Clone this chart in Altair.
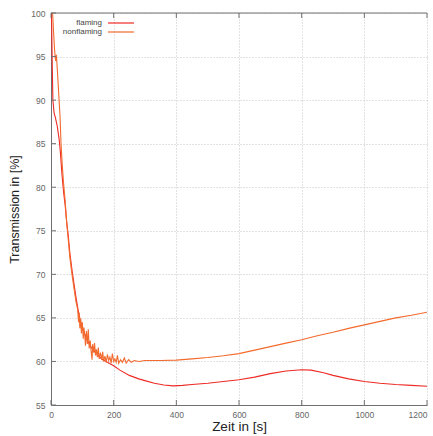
import altair as alt
import pandas as pd

# ---- data ----
flaming_t = [0, 2, 4, 6, 10, 14, 20, 26, 30, 35, 40, 45, 50, 55, 60, 67, 75, 80, 87, 95,
             105, 115, 125, 135, 145, 155, 165, 180, 200, 220, 250, 280, 300, 330, 360,
             390, 420, 450, 500, 550, 600, 650, 700, 750, 800, 830, 870, 900, 950, 1000,
             1050, 1100, 1150, 1200]
flaming_v = [100, 99, 94, 90, 88.5, 88, 87, 85.5, 84, 81.5, 79.5, 78, 76, 74.5, 72.5, 70.5,
             68.5, 67.3, 65.8, 64.5, 63.4, 62.5, 61.8, 61.3, 60.9, 60.5, 60.2, 59.9, 59.5,
             59.0, 58.4, 58.0, 57.8, 57.5, 57.3, 57.2, 57.25, 57.35, 57.5, 57.7, 57.9, 58.2,
             58.6, 58.9, 59.05, 59.0, 58.7, 58.4, 58.0, 57.7, 57.5, 57.35, 57.25, 57.15]

nonflaming_t = [0, 5, 8, 11, 13, 15, 17, 19, 21, 25, 29, 32, 36, 40, 45, 50, 55, 60, 67, 75,
                80, 85, 88, 90, 92, 95, 97, 100, 103, 105, 108, 110, 113, 116, 119, 122, 125,
                128, 131, 133, 136, 139, 142, 145, 148, 151, 154, 158, 162, 165, 168, 172,
                176, 180, 184, 188, 192, 196, 200, 204, 208, 212, 216, 222, 228, 234, 240,
                248, 256, 266, 280, 300, 350, 400, 450, 500, 550, 600, 650, 700, 750, 800,
                850, 900, 950, 1000, 1050, 1100, 1150, 1200]
nonflaming_v = [100, 100, 98, 96, 95, 94.5, 95.2, 94.2, 93, 90.5, 88, 85, 82.5, 80.5, 78.5,
                76, 74, 72, 70, 68, 66.8, 66.0, 64.5, 65.6, 63.8, 64.9, 63.2, 64.5, 62.6,
                63.9, 62.9, 61.8, 63.5, 62.0, 63.7, 61.5, 62.4, 61.2, 60.2, 62.0, 61.0, 62.1,
                60.7, 61.4, 60.5, 61.6, 60.3, 61.0, 60.2, 61.1, 60.0, 60.6, 59.9, 60.8, 60.1,
                60.5, 59.8, 60.9, 60.0, 60.3, 59.9, 60.7, 59.8, 60.2, 59.9, 60.4, 59.8, 60.2,
                59.9, 60.1, 60.0, 60.1, 60.1, 60.15, 60.3, 60.45, 60.65, 60.9, 61.3, 61.7,
                62.1, 62.5, 62.95, 63.35, 63.8, 64.2, 64.6, 65.0, 65.3, 65.65]

series_names = ["flaming", "nonflaming"]
x_ticks = [0, 200, 400, 600, 800, 1000, 1200]
y_ticks = [55, 60, 65, 70, 75, 80, 85, 90, 95, 100]

# ---- styling ----
W, H = 376, 392
RED = "#ee2a24"
ORANGE = "#f26a2d"
FONT = "Liberation Sans"
BORDER = "#707070"

df_f = pd.DataFrame({"t": flaming_t, "v": flaming_v})
df_n = pd.DataFrame({"t": nonflaming_t, "v": nonflaming_v})

xscale = alt.Scale(domain=[0, 1200], nice=False, zero=False)
yscale = alt.Scale(domain=[55, 100], nice=False, zero=False)

x_axis = alt.Axis(values=x_ticks, format="d", title="Zeit in [s]", ticks=False,
                  labelPadding=5, labelFontSize=8.5, labelColor="#666666",
                  labelAlign=alt.ExprRef("datum.value >= 1200 ? 'right' : 'center'"),
                  titleFontSize=13.5, titleColor="#222222", titleFontWeight="normal",
                  titlePadding=1, domainColor=BORDER, grid=True, gridColor="#c4c4c4",
                  gridDash=[1, 2], labelFont=FONT, titleFont=FONT, labelFlush=False)
y_axis = alt.Axis(values=y_ticks, title="Transmission in [%]", ticks=False, labelPadding=6,
                  labelFontSize=8.5, labelColor="#666666", titleFontSize=12.5,
                  titleColor="#222222", titleFontWeight="normal", titlePadding=9,
                  domainColor=BORDER, grid=True, gridColor="#c4c4c4",
                  gridDash=[1, 2], labelFont=FONT, titleFont=FONT, labelFlush=False)

X = alt.X("t:Q", scale=xscale, axis=x_axis)
Y = alt.Y("v:Q", scale=yscale, axis=y_axis)

line_f = alt.Chart(df_f).mark_line(color=RED, strokeWidth=1.1, clip=True).encode(
    x=X, y=Y, order="t:Q")
line_n = alt.Chart(df_n).mark_line(color=ORANGE, strokeWidth=1.1, clip=True).encode(
    x=X, y=Y, order="t:Q")

xt = pd.DataFrame({"t": x_ticks})
yt = pd.DataFrame({"v": y_ticks})
ticks_bottom = alt.Chart(xt).mark_rule(color=BORDER).encode(
    x=X, y=alt.value(H), y2=alt.value(H - 5))
ticks_top = alt.Chart(xt).mark_rule(color=BORDER).encode(
    x=X, y=alt.value(0), y2=alt.value(5))
ticks_left = alt.Chart(yt).mark_rule(color=BORDER).encode(
    y=Y, x=alt.value(0), x2=alt.value(5))
top_border = alt.Chart(pd.DataFrame({"a": [0]})).mark_rule(color=BORDER).encode(
    x=alt.value(0), x2=alt.value(W), y=alt.value(0))

leg_rows = []
for name, color, yy in [(series_names[0], RED, 10), (series_names[1], ORANGE, 19)]:
    d = pd.DataFrame({"label": [name]})
    leg_rows.append(alt.Chart(d).mark_text(align="right", baseline="middle", fontSize=8,
                                           font=FONT, color="#444444").encode(
        x=alt.value(51), y=alt.value(yy), text="label:N"))
    leg_rows.append(alt.Chart(d).mark_rule(color=color, strokeWidth=1.2).encode(
        x=alt.value(57), x2=alt.value(83), y=alt.value(yy)))

chart = alt.layer(line_f, line_n, ticks_bottom, ticks_top, ticks_left, top_border,
                  *leg_rows).properties(
    width=W, height=H,
    background="white",
    autosize=alt.AutoSizeParams(type="none"),
    padding={"left": 51, "top": 13, "right": 6, "bottom": 31},
).configure_view(stroke=None)

chart.save("out.html", embed_options={"renderer": "svg", "actions": False})
